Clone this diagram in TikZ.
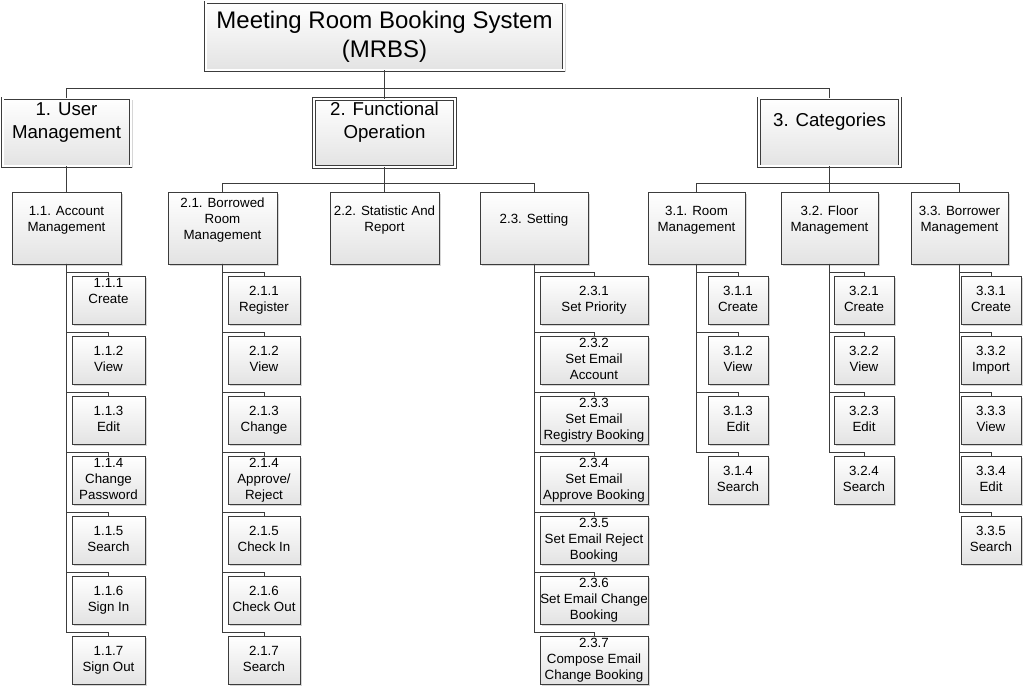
\documentclass[tikz,border=0pt]{standalone}
\usepackage{fontspec}
\setmainfont{Liberation Sans}
\usetikzlibrary{shadows}
\definecolor{linec}{HTML}{3C3C3C}
\newcommand\bt[2]{\raisebox{#1}[\height][\depth]{\begin{tabular}{@{}c@{}}#2\end{tabular}}}
\tikzset{
  boxbase/.style={draw=linec, line width=0.8pt, rectangle, inner sep=0pt, outer sep=0pt,
    top color=white, bottom color=black!11,
    drop shadow={shadow xshift=2pt, shadow yshift=-2pt, fill=black, opacity=0.16}},
  topbox/.style={boxbase, double=white, double distance=2pt, line width=0.6pt,
    font=\fontsize{24}{28.5}\selectfont},
  lvlone/.style={boxbase, double=white, double distance=2pt, line width=0.6pt,
    minimum height=68pt, font=\fontsize{18.67}{23}\selectfont},
  lvltwo/.style={boxbase, minimum height=72pt, font=\fontsize{13.33}{16}\selectfont},
  leaf/.style={boxbase, minimum height=48pt, font=\fontsize{13.33}{16}\selectfont},
  conn/.style={draw=linec, line width=0.8pt}
}
\begin{document}
\begin{tikzpicture}[x=1pt,y=-1pt]
\useasboundingbox (0,0) rectangle (1023,687);
% root
\node[topbox, minimum width=358pt, minimum height=68pt] (T) at (384.5,36.5)
  {\bt{-1pt}{Meeting Room Booking System\\(MRBS)}};
% level 1
\node[lvlone, minimum width=128pt] (U) at (66.5,132.5) {\bt{10.5pt}{1. User\\Management}};
\node[lvlone, minimum width=141pt] (F) at (384.5,133) {\bt{10.5pt}{2. Functional\\Operation}};
\node[lvlone, minimum width=141pt] (C) at (829.5,132.5) {\bt{11pt}{3. Categories}};
% level 2
\node[lvltwo, minimum width=109pt] (A) at (66.5,228) {\bt{8pt}{1.1. Account\\Management}};
\node[lvltwo, minimum width=109pt] (B) at (222.5,228) {\bt{8pt}{2.1. Borrowed\\Room\\Management}};
\node[lvltwo, minimum width=109pt] (R) at (384.5,228) {\bt{8pt}{2.2. Statistic And\\Report}};
\node[lvltwo, minimum width=108pt] (S) at (534,228) {\bt{8pt}{2.3. Setting}};
\node[lvltwo, minimum width=97pt] (Ca) at (696.5,228) {\bt{8pt}{3.1. Room\\Management}};
\node[lvltwo, minimum width=97pt] (Cb) at (829.5,228) {\bt{8pt}{3.2. Floor\\Management}};
\node[lvltwo, minimum width=97pt] (Cc) at (959.5,228) {\bt{8pt}{3.3. Borrower\\Management}};
% leaves 1.1
\node[leaf, minimum width=73pt] (a1) at (108.5,300) {\bt{8pt}{1.1.1\\Create}};
\node[leaf, minimum width=73pt] (a2) at (108.5,360) {\bt{0pt}{1.1.2\\View}};
\node[leaf, minimum width=73pt] (a3) at (108.5,420) {\bt{0pt}{1.1.3\\Edit}};
\node[leaf, minimum width=73pt] (a4) at (108.5,480) {\bt{0pt}{1.1.4\\Change\\Password}};
\node[leaf, minimum width=73pt] (a5) at (108.5,540) {\bt{0pt}{1.1.5\\Search}};
\node[leaf, minimum width=73pt] (a6) at (108.5,600) {\bt{0pt}{1.1.6\\Sign In}};
\node[leaf, minimum width=73pt] (a7) at (108.5,660) {\bt{0pt}{1.1.7\\Sign Out}};
% leaves 2.1
\node[leaf, minimum width=72pt] (b1) at (264,300) {\bt{0pt}{2.1.1\\Register}};
\node[leaf, minimum width=72pt] (b2) at (264,360) {\bt{0pt}{2.1.2\\View}};
\node[leaf, minimum width=72pt] (b3) at (264,420) {\bt{0pt}{2.1.3\\Change}};
\node[leaf, minimum width=72pt] (b4) at (264,480) {\bt{0pt}{2.1.4\\Approve/\\Reject}};
\node[leaf, minimum width=72pt] (b5) at (264,540) {\bt{0pt}{2.1.5\\Check In}};
\node[leaf, minimum width=72pt] (b6) at (264,600) {\bt{0pt}{2.1.6\\Check Out}};
\node[leaf, minimum width=72pt] (b7) at (264,660) {\bt{0pt}{2.1.7\\Search}};
% leaves 2.3
\node[leaf, minimum width=108pt] (s1) at (594,300) {\bt{0pt}{2.3.1\\Set Priority}};
\node[leaf, minimum width=108pt] (s2) at (594,360) {\bt{0pt}{2.3.2\\Set Email\\Account}};
\node[leaf, minimum width=108pt] (s3) at (594,420) {\bt{0pt}{2.3.3\\Set Email\\Registry Booking}};
\node[leaf, minimum width=108pt] (s4) at (594,480) {\bt{0pt}{2.3.4\\Set Email\\Approve Booking}};
\node[leaf, minimum width=108pt] (s5) at (594,540) {\bt{0pt}{2.3.5\\Set Email Reject\\Booking}};
\node[leaf, minimum width=108pt] (s6) at (594,600) {\bt{0pt}{2.3.6\\Set Email Change\\Booking}};
\node[leaf, minimum width=108pt] (s7) at (594,660) {\bt{0pt}{2.3.7\\Compose Email\\Change Booking}};
% leaves 3.1
\node[leaf, minimum width=60pt] (c1) at (738,300) {\bt{0pt}{3.1.1\\Create}};
\node[leaf, minimum width=60pt] (c2) at (738,360) {\bt{0pt}{3.1.2\\View}};
\node[leaf, minimum width=60pt] (c3) at (738,420) {\bt{0pt}{3.1.3\\Edit}};
\node[leaf, minimum width=60pt] (c4) at (738,480) {\bt{0pt}{3.1.4\\Search}};
% leaves 3.2
\node[leaf, minimum width=60pt] (d1) at (864,300) {\bt{0pt}{3.2.1\\Create}};
\node[leaf, minimum width=60pt] (d2) at (864,360) {\bt{0pt}{3.2.2\\View}};
\node[leaf, minimum width=60pt] (d3) at (864,420) {\bt{0pt}{3.2.3\\Edit}};
\node[leaf, minimum width=60pt] (d4) at (864,480) {\bt{0pt}{3.2.4\\Search}};
% leaves 3.3
\node[leaf, minimum width=60pt] (e1) at (991,300) {\bt{0pt}{3.3.1\\Create}};
\node[leaf, minimum width=60pt] (e2) at (991,360) {\bt{0pt}{3.3.2\\Import}};
\node[leaf, minimum width=60pt] (e3) at (991,420) {\bt{0pt}{3.3.3\\View}};
\node[leaf, minimum width=60pt] (e4) at (991,480) {\bt{0pt}{3.3.4\\Edit}};
\node[leaf, minimum width=60pt] (e5) at (991,540) {\bt{0pt}{3.3.5\\Search}};
% connectors level 1
\draw[conn] (T.south) -- (F.north);
\draw[conn] (U.north) -- ++(0,-10) -| (C.north);
% level 2
\draw[conn] (U.south) -- (A.north);
\draw[conn] (F.south) -- (R.north);
\draw[conn] (B.north) -- ++(0,-9) -| (S.north);
\draw[conn] (C.south) -- (Cb.north);
\draw[conn] (Ca.north) -- ++(0,-9) -| (Cc.north);
% level 3
\foreach \p/\l in {A/a1,A/a2,A/a3,A/a4,A/a5,A/a6,A/a7,
                   B/b1,B/b2,B/b3,B/b4,B/b5,B/b6,B/b7,
                   S/s1,S/s2,S/s3,S/s4,S/s5,S/s6,S/s7,
                   Ca/c1,Ca/c2,Ca/c3,Ca/c4,
                   Cb/d1,Cb/d2,Cb/d3,Cb/d4,
                   Cc/e1,Cc/e2,Cc/e3,Cc/e4,Cc/e5}
  \draw[conn] (\p.south) |- ([yshift=4pt]\l.north) -- (\l.north);
\end{tikzpicture}
\end{document}
